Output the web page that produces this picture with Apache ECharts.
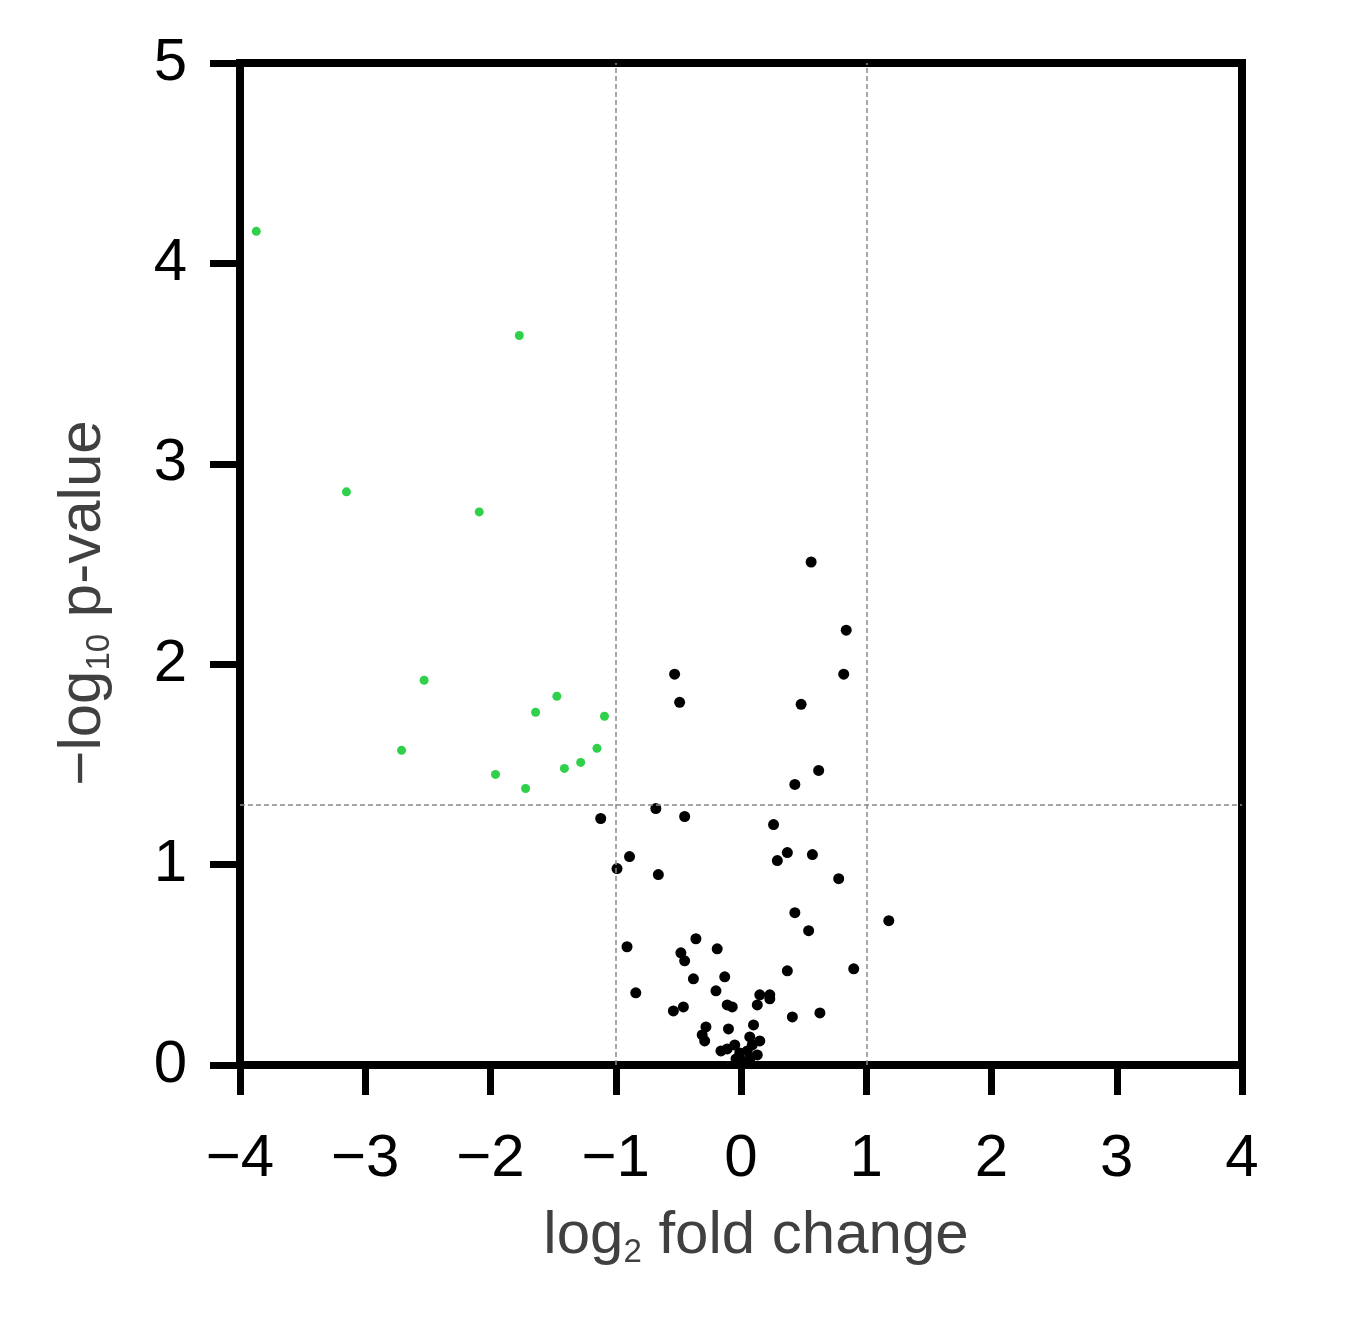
<!DOCTYPE html>
<html>
<head>
<meta charset="utf-8">
<script src="https://cdn.jsdelivr.net/npm/echarts@6/dist/echarts.min.js"></script>
<style>
  html, body { margin: 0; padding: 0; background: #fff; }
  #volcano { width: 1349px; height: 1342px; }
</style>
</head>
<body>
<div id="volcano"></div>
<script>
  // significant (down-regulated) points, green
  var sigX = [-3.87, -1.77, -3.15, -2.09, -2.53, -1.47, -1.64, -1.09, -2.71, -1.15, -1.28, -1.41, -1.96, -1.72]
  var sigY = [4.16, 3.64, 2.86, 2.76, 1.92, 1.84, 1.76, 1.74, 1.57, 1.58, 1.51, 1.48, 1.45, 1.38]

  // non-significant points, black
  var nsX = [0.56, 0.84, -0.53, 0.82, -0.49, 0.48, 0.62, 0.43,
    -1.12, -0.68, -0.45, 0.26, -0.89, -0.99, -0.66, 0.37, 0.29, 0.57, 0.78,
    0.43, 0.54, 1.18, -0.36, -0.91, -0.19, -0.48, -0.45, 0.90, 0.37, -0.38, -0.13,
    -0.84, -0.20, 0.15, 0.23, 0.23, 0.13, -0.11, -0.07, -0.46, -0.54, 0.41, 0.63,
    0.10, -0.28, -0.10, -0.31, -0.29, 0.07, 0.15, 0.09, -0.05, -0.16, -0.11, -0.01,
    0.05, 0.13, -0.04, 0.07, 0.01]
  var nsY = [2.51, 2.17, 1.95, 1.95, 1.81, 1.80, 1.47, 1.40,
    1.23, 1.28, 1.24, 1.20, 1.04, 0.98, 0.95, 1.06, 1.02, 1.05, 0.93,
    0.76, 0.67, 0.72, 0.63, 0.59, 0.58, 0.56, 0.52, 0.48, 0.47, 0.43, 0.44,
    0.36, 0.37, 0.35, 0.35, 0.33, 0.30, 0.30, 0.29, 0.29, 0.27, 0.24, 0.26,
    0.20, 0.19, 0.18, 0.15, 0.12, 0.14, 0.12, 0.10, 0.10, 0.07, 0.08, 0.06,
    0.07, 0.05, 0.03, 0.03, 0.02]

  // threshold lines
  var foldCut = [-1, 1]
  var pCut = 1.3

  var xTicks = [-4, -3, -2, -1, 0, 1, 2, 3, 4]
  var yTicks = [0, 1, 2, 3, 4, 5]

  function pairs (xs, ys) {
    var out = []
    for (var i = 0; i < xs.length; i++) {
      out.push([xs[i], ys[i]])
    }
    return out
  }

  var font = 'Liberation Sans, Arial, sans-serif'
  var nameRich = {
    a: { fontSize: 60, fontFamily: font, color: '#404040', lineHeight: 66 },
    s: { fontSize: 33, fontFamily: font, color: '#404040', lineHeight: 30, verticalAlign: 'bottom' }
  }
  var chart = echarts.init(document.getElementById('volcano'))

  var option = {
    animation: false,
    grid: {
      left: 240,
      right: 107,
      top: 63,
      bottom: 277,
      show: true,
      borderWidth: 8,
      borderColor: '#000'
    },
    xAxis: {
      type: 'value',
      min: xTicks[0],
      max: xTicks[xTicks.length - 1],
      interval: 1,
      splitLine: { show: false },
      axisLine: { onZero: false, lineStyle: { color: '#000', width: 8 } },
      axisTick: { length: 30, lineStyle: { color: '#000', width: 7 } },
      axisLabel: {
        margin: 64,
        color: '#000',
        fontSize: 60,
        fontFamily: font,
        formatter: function (v) { return String(v).replace('-', '\u2212') }
      },
      name: '{a|log}{s|2}{a| fold change}',
      nameLocation: 'middle',
      nameGap: 138,
      nameTextStyle: { padding: [0, 0, 0, 30], rich: nameRich }
    },
    yAxis: {
      type: 'value',
      min: yTicks[0],
      max: yTicks[yTicks.length - 1],
      interval: 1,
      splitLine: { show: false },
      axisLine: { onZero: false, lineStyle: { color: '#000', width: 8 } },
      axisTick: { length: 30, lineStyle: { color: '#000', width: 7 } },
      axisLabel: {
        margin: 53,
        color: '#000',
        fontSize: 60,
        fontFamily: font,
        padding: [10, 0, 0, 0]
      },
      name: '{a|\u2212log}{s|10}{a| p-value}',
      nameLocation: 'middle',
      nameGap: 124,
      nameTextStyle: { padding: [0, 78, 0, 0], rich: nameRich }
    },
    series: [
      {
        name: 'ns',
        type: 'scatter',
        symbolSize: 11,
        itemStyle: { color: '#000', opacity: 1 },
        data: pairs(nsX, nsY),
        markLine: {
          silent: true,
          symbol: 'none',
          label: { show: false },
          lineStyle: { color: '#8a8a8a', width: 1.5, type: [5, 3] },
          data: [
            { xAxis: foldCut[0] },
            { xAxis: foldCut[1] },
            { yAxis: pCut }
          ]
        }
      },
      {
        name: 'sig',
        type: 'scatter',
        symbolSize: 9,
        itemStyle: { color: '#2fd04a', opacity: 1 },
        data: pairs(sigX, sigY)
      }
    ]
  }

  chart.setOption(option)
</script>
</body>
</html>
